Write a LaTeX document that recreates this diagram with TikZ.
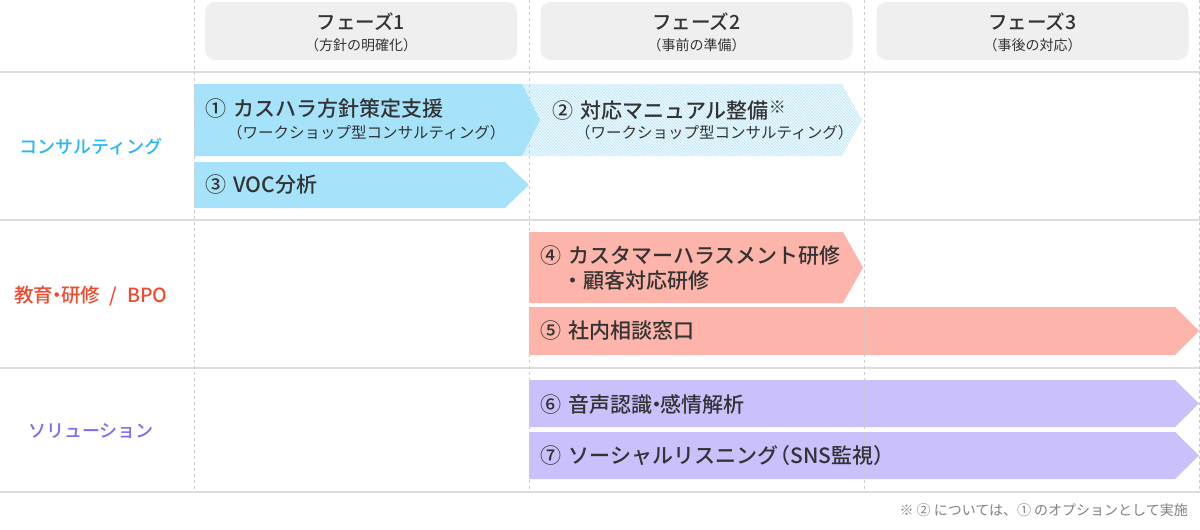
\documentclass[tikz,border=0pt]{standalone}
\usepackage{fontspec}
\setmainfont{Noto Sans CJK JP}[BoldFont={Noto Sans CJK JP Medium}]
\usetikzlibrary{patterns}
\definecolor{ink}{HTML}{333333}
\definecolor{rulegray}{HTML}{DDDDDD}
\definecolor{phasegray}{HTML}{EFEFEF}
\definecolor{consfill}{HTML}{A6E3FB}
\definecolor{hatchbg}{HTML}{EEF9FE}
\definecolor{hatchline}{HTML}{B4E4F9}
\definecolor{edufill}{HTML}{FDB4AA}
\definecolor{solfill}{HTML}{CAC0FC}
\definecolor{conslbl}{HTML}{29B6F6}
\definecolor{edulbl}{HTML}{F04A2E}
\definecolor{sollbl}{HTML}{7C6CF0}

\begin{document}
\begin{tikzpicture}[x=1pt, y=-1pt,
    phasebox/.style={rectangle, rounded corners=10pt, fill=phasegray,
                     minimum width=312pt, minimum height=58pt, inner sep=0pt},
    phasetitle/.style={inner sep=0pt, text=ink, font=\fontsize{19.5}{22}\selectfont\bfseries},
    phasesub/.style={inner sep=0pt, text=ink, font=\fontsize{14}{16}\selectfont},
    rowlbl/.style={inner sep=0pt, font=\fontsize{18}{21}\selectfont\bfseries},
    task/.style={anchor=west, inner sep=0pt, text=ink, font=\fontsize{21}{24}\selectfont\bfseries},
    tasksub/.style={anchor=west, inner sep=0pt, text=ink, font=\fontsize{15.5}{18}\selectfont},
    rule/.style={draw=rulegray, line width=1.3pt},
    grid/.style={draw=black!20, line width=0.8pt, dash pattern=on 3pt off 3pt}]
  \useasboundingbox (0,0) rectangle (1200,530);

  % phase headers
  \node[phasebox] (p1) at (361,31) {};
  \node[phasebox] (p2) at (696.5,31) {};
  \node[phasebox] (p3) at (1032.5,31) {};
  \node[phasetitle] (p1t) at (361,22) {フェーズ1};
  \node[phasesub] (p1s) at (361,45) {（方針の明確化）};
  \node[phasetitle] (p2t) at (696.5,22) {フェーズ2};
  \node[phasesub] (p2s) at (696.5,45) {（事前の準備）};
  \node[phasetitle] (p3t) at (1032.5,22) {フェーズ3};
  \node[phasesub] (p3s) at (1032.5,45) {（事後の対応）};

  % row separators
  \foreach \y in {72,220,368,492}
    \draw[rule] (0,\y) -- (1200,\y);

  % consulting
  \fill[hatchbg] (523,84) -- (842,84) -- (862,120) -- (842,156) -- (523,156) -- cycle;
  \fill[pattern=north west lines, pattern color=hatchline]
    (523,84) -- (842,84) -- (862,120) -- (842,156) -- (523,156) -- cycle;
  \fill[consfill] (194,84) -- (522,84) -- (540,120) -- (522,156) -- (194,156) -- cycle;
  \fill[consfill] (194,162) -- (505,162) -- (529,185) -- (505,208) -- (194,208) -- cycle;
  % education / BPO
  \fill[edufill] (529,232) -- (843,232) -- (863,267.5) -- (843,303) -- (529,303) -- cycle;
  \fill[edufill] (529,307) -- (1175,307) -- (1199,331) -- (1175,355) -- (529,355) -- cycle;
  % solution
  \fill[solfill] (529,380) -- (1175,380) -- (1199,403.5) -- (1175,427) -- (529,427) -- cycle;
  \fill[solfill] (529,432) -- (1175,432) -- (1199,455.5) -- (1175,479) -- (529,479) -- cycle;

  % phase borders
  \foreach \x in {194,529,864,1199}
    \draw[grid] (\x,0) -- (\x,492);

  % row labels
  \node[rowlbl, text=conslbl] (cons) at (91,147) {コンサルティング};
  \node[rowlbl, text=edulbl, font=\fontsize{19.5}{22}\selectfont\bfseries] (edu) at (91,296)
    {教育\hspace{-0.3em}・\hspace{-0.3em}研修\hspace{0.5em}/\hspace{0.5em}BPO};
  \node[rowlbl, text=sollbl] (sol) at (91,431) {ソリューション};

  % tasks
  \node[task] (t1) at (205,109) {①\hspace{0.35em}カスハラ方針策定支援};
  \node[tasksub] (t1s) at (227,133) {（ワークショップ型コンサルティング）};
  \node[task] (t2) at (552,111) {②\hspace{0.35em}対応マニュアル整備\raisebox{0.25em}{\fontsize{17}{17}\selectfont ※}};
  \node[tasksub] (t2s) at (575,133) {（ワークショップ型コンサルティング）};
  \node[task] (t3) at (205,185) {③\hspace{0.35em}VOC分析};
  \node[task] (t4) at (540,256) {④\hspace{0.35em}カスタマーハラスメント研修};
  \node[task] (t4s) at (562,281) {・顧客対応研修};
  \node[task] (t5) at (540,331) {⑤\hspace{0.35em}社内相談窓口};
  \node[task] (t6) at (540,404) {⑥\hspace{0.35em}音声認識\hspace{-0.3em}・\hspace{-0.3em}感情解析};
  \node[task] (t7) at (540,456) {⑦\hspace{0.35em}ソーシャルリスニング\hspace{-0.4em}（SNS監視）};

  % footnote
  \node[anchor=east, inner sep=0pt, text=black!50, font=\fontsize{14}{17}\selectfont]
    (note) at (1188,510) {※ ② については、① のオプションとして実施};
\end{tikzpicture}
\end{document}
